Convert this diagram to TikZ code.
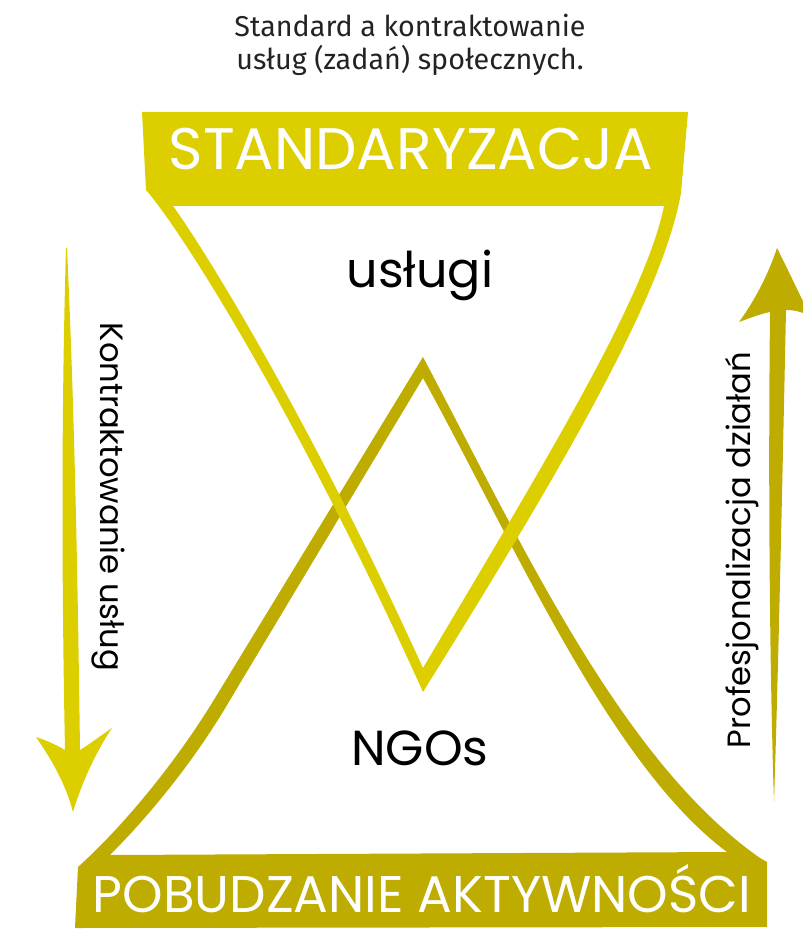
\documentclass[tikz,border=0pt]{standalone}
\usepackage{fontspec}
\setmainfont{Fira Sans}
\newfontfamily\handfont{Poppins}
\usetikzlibrary{positioning}
\definecolor{stdyellow}{RGB}{221,206,0}
\definecolor{ngoolive}{RGB}{190,172,0}
\definecolor{titlegray}{RGB}{35,35,35}
\tikzset{
  bannertext/.style={text=white, inner sep=0pt, anchor=base},
  bigword/.style={text=black, inner sep=0pt, anchor=base,
    font=\handfont\fontsize{42}{46}\selectfont},
  sidetext/.style={text=black, inner sep=0pt,
    font=\handfont\fontsize{27.5}{30}\selectfont}
}

\begin{document}
\begin{tikzpicture}[x=0.03cm, y=-0.03cm]
  \useasboundingbox (0,0) rectangle (802,933);

  % lower banner with the peak
  \fill[ngoolive, even odd rule]
    (423,357) -- (212,703) .. controls (180,755) and (130,820) .. (78,867)
    -- (75,928) -- (767,927) -- (767,862) -- (760,858)
    .. controls (620,760) and (520,540) .. (423,357) -- cycle
    (423,378) -- (230,700) .. controls (195,760) and (150,815) .. (110,855)
    -- (727,852) .. controls (610,765) and (515,545) .. (423,378) -- cycle;

  % upper banner with the funnel
  \fill[stdyellow, even odd rule]
    (142,112) -- (688,112) -- (681,193)
    .. controls (662,300) and (555,480) .. (423,692)
    .. controls (300,420) and (185,235) .. (146,190) -- cycle
    (173,206) -- (664,206)
    .. controls (645,300) and (540,470) .. (423,668)
    .. controls (310,420) and (205,250) .. (173,206) -- cycle;

  % side arrows
  \fill[stdyellow] (66,248) .. controls (61,420) and (62,600) .. (65,750)
    .. controls (55,744) and (45,740) .. (36,737)
    .. controls (52,760) and (66,785) .. (73,812)
    .. controls (82,782) and (96,752) .. (112,728)
    .. controls (100,736) and (90,744) .. (80,750)
    .. controls (78,600) and (75,420) .. (67,248) -- cycle;
  \fill[ngoolive] (777,248) .. controls (768,275) and (755,300) .. (739,322)
    .. controls (750,318) and (760,314) .. (770,312)
    .. controls (768,500) and (770,680) .. (774,802)
    .. controls (778,680) and (782,500) .. (786,310)
    .. controls (795,310) and (802,312) .. (810,316)
    .. controls (800,295) and (788,270) .. (777,248) -- cycle;

  \node[anchor=base, align=center, text=titlegray, inner sep=0pt,
    font=\fontsize{24.5}{29}\selectfont] (title) at (410,70)
    {Standard a kontraktowanie\\usług (zadań) społecznych.};
  \node[bannertext, font=\handfont\fontsize{50}{54}\selectfont] (standard) at (411,170) {STANDARYZACJA};
  \node[bannertext, font=\handfont\fontsize{44}{48}\selectfont] (pobudz) at (422,912) {POBUDZANIE AKTYWNOŚCI};
  \node[bigword] (uslugi) at (420,287) {usługi};
  \node[bigword] (ngos) at (420,765) {NGOs};
  \node[sidetext, rotate=-90] (kontrakt) at (108,497) {Kontraktowanie usług};
  \node[sidetext, rotate=90] (profes) at (742,550) {Profesjonalizacja działań};
\end{tikzpicture}
\end{document}
